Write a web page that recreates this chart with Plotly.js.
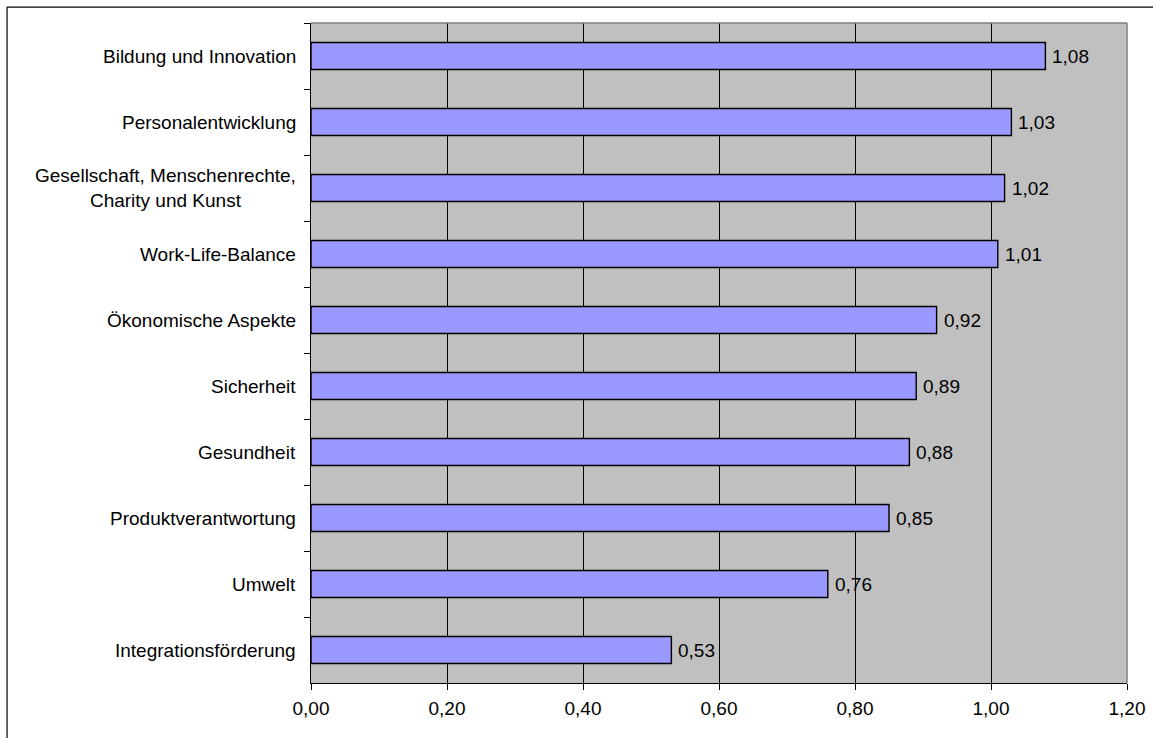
<!DOCTYPE html>
<html>
<head>
<meta charset="utf-8">
<script src="https://cdn.plot.ly/plotly-3.0.1.min.js"></script>
<style>
  html, body { margin: 0; padding: 0; background: #ffffff; }
  #chart { width: 1157px; height: 738px; }
</style>
</head>
<body>
<div id="chart"></div>
<script>
// Themen, von oben nach unten
const categories = [
  "Bildung und Innovation",
  "Personalentwicklung",
  "Gesellschaft, Menschenrechte,<br>Charity und Kunst",
  "Work-Life-Balance",
  "Ökonomische Aspekte",
  "Sicherheit",
  "Gesundheit",
  "Produktverantwortung",
  "Umwelt",
  "Integrationsförderung"
];
const values = [1.08, 1.03, 1.02, 1.01, 0.92, 0.89, 0.88, 0.85, 0.76, 0.53];
const xTicks = [0, 0.2, 0.4, 0.6, 0.8, 1.0, 1.2];

const fontFamily = "Liberation Sans, Arial, sans-serif";
const fontSize = 19;
const fmt = v => v.toFixed(2).replace(".", ",");

const trace = {
  type: "bar",
  orientation: "h",
  y: categories,
  x: values,
  marker: { color: "#9999FF", line: { color: "#000000", width: 1.4 } },
  hoverinfo: "skip"
};

// Wertbeschriftungen rechts neben den Balken
const valueLabels = values.map((v, i) => ({
  x: v,
  y: categories[i],
  xref: "x",
  yref: "y",
  text: fmt(v),
  showarrow: false,
  xanchor: "left",
  yanchor: "middle",
  xshift: 5,
  font: { family: fontFamily, size: fontSize, color: "#000000" }
}));

// Kategorienamen links der Achse, mehrzeilige Namen zentriert
const categoryLabels = categories.map(c => ({
  x: 0,
  y: c,
  xref: "x domain",
  yref: "y",
  text: c,
  showarrow: false,
  xanchor: "right",
  yanchor: "middle",
  align: "center",
  xshift: -13,
  font: { family: fontFamily, size: fontSize, color: "#000000" }
}));

const layout = {
  width: 1157,
  height: 738,
  margin: { l: 311, r: 30, t: 23, b: 55 },
  paper_bgcolor: "#ffffff",
  plot_bgcolor: "#C0C0C0",
  separators: ", ",
  showlegend: false,
  bargap: 0.59,
  font: { family: fontFamily, size: fontSize, color: "#000000" },
  xaxis: {
    range: [0, 1.2],
    tickvals: xTicks,
    ticktext: xTicks.map(fmt),
    showgrid: true,
    gridcolor: "#000000",
    gridwidth: 1,
    zeroline: false,
    showline: true,
    linecolor: "#000000",
    linewidth: 1,
    ticks: "outside",
    ticklen: 6,
    tickcolor: "#000000",
    ticklabelstandoff: 2,
    tickfont: { family: fontFamily, size: fontSize, color: "#000000" }
  },
  yaxis: {
    type: "category",
    autorange: "reversed",
    showgrid: false,
    zeroline: false,
    showline: true,
    linecolor: "#000000",
    linewidth: 1,
    ticks: "outside",
    tickson: "boundaries",
    ticklen: 6,
    tickcolor: "#000000",
    showticklabels: false
  },
  annotations: categoryLabels.concat(valueLabels),
  shapes: [
    // Rahmen der Zeichenfläche oben und rechts
    { type: "line", xref: "x domain", yref: "y domain", x0: 0, x1: 1, y0: 1, y1: 1,
      line: { color: "#808080", width: 1.5 } },
    { type: "line", xref: "x domain", yref: "y domain", x0: 1, x1: 1, y0: 0, y1: 1,
      line: { color: "#808080", width: 1.5 } },
    // äußerer Diagrammrahmen
    { type: "line", xref: "paper", yref: "paper", x0: -0.3725, x1: 1.0319, y0: 1.0242, y1: 1.0242,
      line: { color: "#000000", width: 1.2 } },
    { type: "line", xref: "paper", yref: "paper", x0: -0.3725, x1: -0.3725, y0: 1.0242, y1: -0.1,
      line: { color: "#000000", width: 1.2 } }
  ]
};

Plotly.newPlot("chart", [trace], layout, { displayModeBar: false, staticPlot: true });
</script>
</body>
</html>
